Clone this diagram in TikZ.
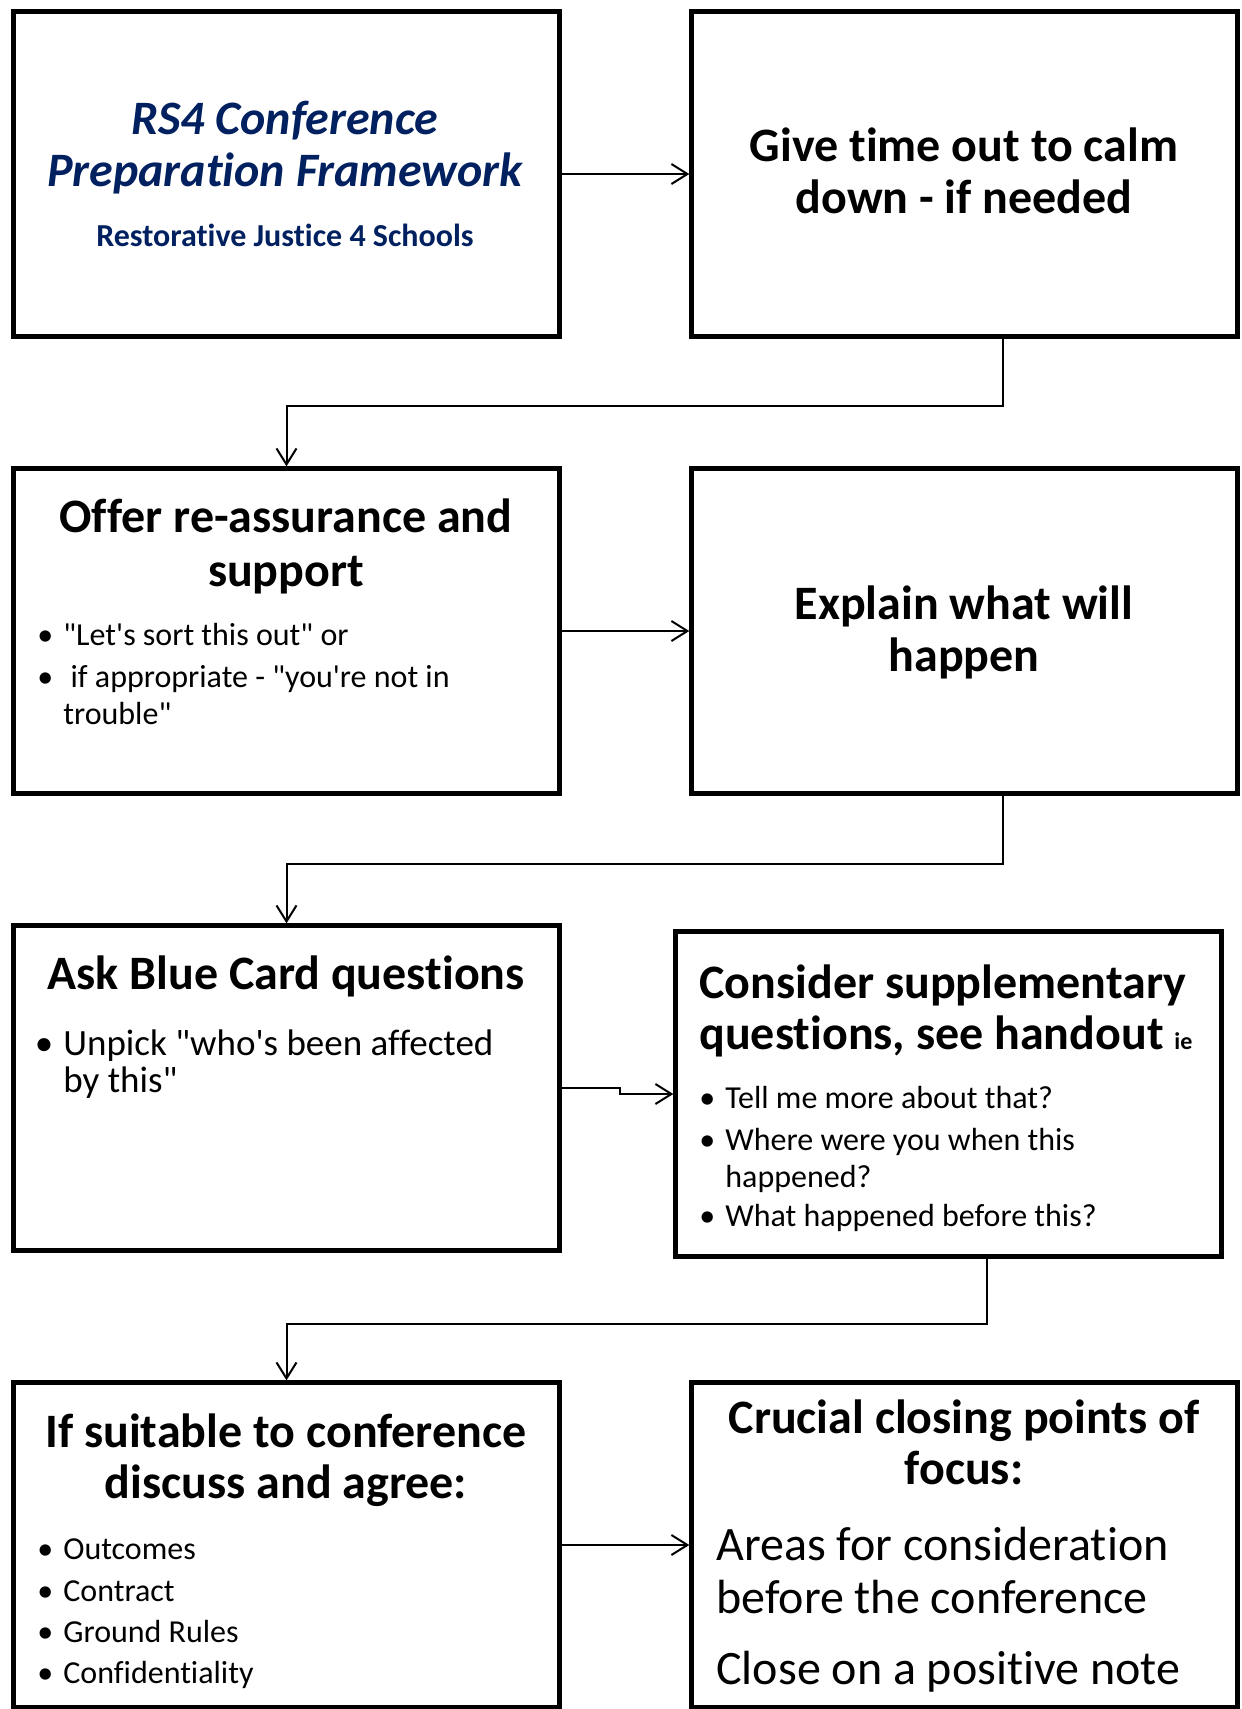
\documentclass[tikz,border=0pt]{standalone}
\usepackage{fontspec}
\setmainfont{Carlito}[Ligatures={TeXOff,NoCommon}]
\usetikzlibrary{arrows.meta,calc}
\definecolor{rjblue}{RGB}{0,32,96}
\newcommand{\bul}{\llap{\textbullet\hspace{5pt}}}

\begin{document}
\begin{tikzpicture}[x=0.5pt,y=-0.5pt,
  box/.style={draw,line width=2.2pt,minimum width=273pt,minimum height=162.5pt,inner sep=0pt},
  head/.style={font=\fontsize{24}{29}\selectfont\bfseries,anchor=base,inner sep=0pt},
  title/.style={font=\fontsize{24}{29}\selectfont\bfseries\itshape,text=rjblue,anchor=base,inner sep=0pt},
  sub/.style={font=\fontsize{16}{19}\selectfont\bfseries,text=rjblue,anchor=base,inner sep=0pt},
  small/.style={font=\fontsize{16}{19}\selectfont,anchor=base west,inner sep=0pt},
  mid/.style={font=\fontsize{18.5}{22}\selectfont,anchor=base west,inner sep=0pt},
  big/.style={font=\fontsize{24}{29}\selectfont,anchor=base west,inner sep=0pt},
  link/.style={line width=1pt,-{Straight Barb[length=8pt,width=10pt]}}]

\useasboundingbox (0,0) rectangle (1242,1709);
\clip (0,0) rectangle (1242,1709);

% boxes
\node[box] (b1) at (286.5,174) {};
\node[box] (b2) at (964.5,174) {};
\node[box] (b3) at (286.5,631) {};
\node[box] (b4) at (964.5,631) {};
\node[box] (b5) at (286.5,1088) {};
\node[box] (b6) at (948.5,1094) {};
\node[box] (b7) at (286.5,1545) {};
\node[box] (b8) at (964.5,1545) {};

% title box
\node[title] (t1) at (285,134) {RS4 Conference};
\node[title] (t2) at (285,186) {Preparation Framework};
\node[sub] (t3) at (285,246) {Restorative Justice 4 Schools};

\foreach \txt/\yy [count=\i] in {Give time out to calm/161, down - if needed/213}
  \node[head] (g\i) at (964,\yy) {\txt};

\foreach \txt/\yy [count=\i] in {Offer re-assurance and/532, support/586}
  \node[head] (o\i) at (286,\yy) {\txt};
\node[small] (o3) at (63,645) {\bul"Let's sort this out" or};
\node[small] (o4) at (63,687) {\bul\ if appropriate - "you're not in};
\node[small] (o5) at (63,724) {trouble"};

\foreach \txt/\yy [count=\i] in {Explain what will/619, happen/671}
  \node[head] (e\i) at (964,\yy) {\txt};

\node[head] (a1) at (286,989) {Ask Blue Card questions};
\node[mid] (a2) at (63,1055) {\bul Unpick "who's been affected};
\node[mid] (a3) at (63,1092) {by this"};

% supplementary questions
\node[head,anchor=base west] (s1) at (699,998) {Consider supplementary};
\node[head,anchor=base west] (s2) at (699,1049) {questions, see handout {\fontsize{12}{14}\selectfont ie}};
\foreach \txt/\yy [count=\i from 3] in {Tell me more about that?/1108, Where were you when this/1150}
  \node[small] (s\i) at (725,\yy) {\bul\txt};
\node[small] (s5) at (725,1187) {happened?};
\node[small] (s6) at (725,1226) {\bul What happened before this?};

\foreach \txt/\yy [count=\i] in {If suitable to conference/1447, discuss and agree:/1498}
  \node[head] (c\i) at (286,\yy) {\txt};
\foreach \txt/\yy [count=\i from 3] in {Outcomes/1559, Contract/1601, Ground Rules/1642, Confidentiality/1683}
  \node[small] (c\i) at (63,\yy) {\bul\txt};

\foreach \txt/\yy [count=\i] in {Crucial closing points of/1433, focus:/1484}
  \node[head] (f\i) at (964,\yy) {\txt};
\foreach \txt/\yy [count=\i from 3] in {Areas for consideration/1560, before the conference/1613, Close on a positive note/1684}
  \node[big] (f\i) at (716,\yy) {\txt};

% connectors
\draw[link] (b1) -- (b2);
\draw[link] (b3) -- (b4);
\draw[link] (b7) -- (b8);
\draw[link] (b5.east) -- ++(58,0) |- (b6.west);
\draw[link] ($(b2.south)+(38,0)$) -- ++(0,67) -| (b3.north);
\draw[link] ($(b4.south)+(38,0)$) -- ++(0,68) -| (b5.north);
\draw[link] ($(b6.south)+(38,0)$) -- ++(0,65) -| (b7.north);
\end{tikzpicture}
\end{document}
